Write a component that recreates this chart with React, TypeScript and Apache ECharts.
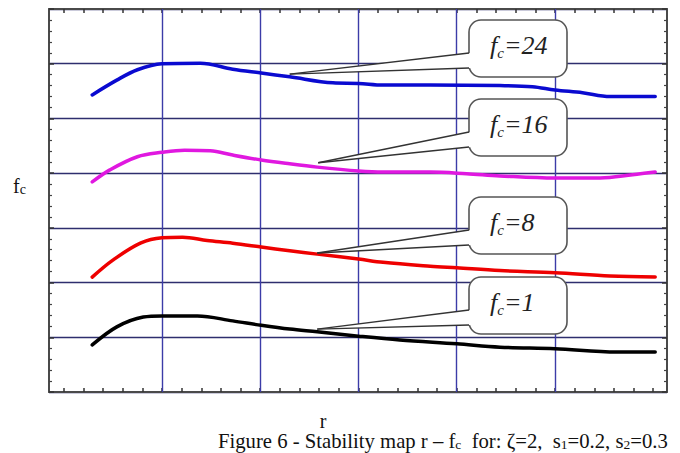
import React, { useEffect, useRef } from "react";
import * as echarts from "echarts";

// r-axis (horizontal) — vertical grid lines and tick positions
const rGridLines = [1, 2, 3, 4, 5];
const rMin = -0.15;
const rMax = 6.14;
const fMin = 0;
const fMax = 7;

// curve data
const rFc1 = [0.29, 0.54, 0.81, 1.0, 1.36, 1.72, 2.01, 2.3, 2.58, 3.0, 3.42, 4.0, 4.44, 5.0, 5.63, 6.02];
const vFc1 = [0.86, 1.19, 1.37, 1.39, 1.39, 1.3, 1.22, 1.15, 1.1, 1.02, 0.95, 0.88, 0.82, 0.79, 0.73, 0.73];

const rFc8 = [0.29, 0.5, 0.78, 1.0, 1.21, 1.46, 1.72, 2.01, 2.3, 2.58, 3.0, 3.25, 3.73, 4.0, 4.44, 5.0, 5.56, 6.02];
const vFc8 = [2.1, 2.41, 2.72, 2.82, 2.83, 2.77, 2.72, 2.65, 2.58, 2.52, 2.43, 2.37, 2.3, 2.27, 2.22, 2.18, 2.12, 2.1];

const rFc16 = [0.29, 0.47, 0.75, 1.0, 1.23, 1.49, 1.72, 2.01, 2.3, 2.58, 3.0, 3.25, 3.73, 4.1, 4.44, 5.0, 5.46, 5.79, 6.02];
const vFc16 = [3.84, 4.06, 4.3, 4.38, 4.42, 4.41, 4.33, 4.24, 4.17, 4.11, 4.04, 4.02, 4.02, 3.99, 3.95, 3.91, 3.91, 3.97, 4.02];

const rFc24 = [0.29, 0.54, 0.75, 1.0, 1.39, 1.72, 2.01, 2.3, 2.74, 3.0, 3.25, 3.73, 4.44, 4.77, 5.0, 5.28, 5.56, 6.02];
const vFc24 = [5.43, 5.7, 5.89, 6.0, 6.01, 5.9, 5.83, 5.76, 5.65, 5.64, 5.61, 5.61, 5.6, 5.58, 5.52, 5.47, 5.4, 5.4];

const seriesColors = ["#000000", "#ee0000", "#e018e0", "#0a0ad0"];
const calloutValues = ["1", "8", "16", "24"];
// tips of the callout pointers, in data coordinates [r, fc]
const calloutTips = [
  [2.58, 1.15],
  [2.58, 2.54],
  [2.59, 4.19],
  [2.3, 5.81],
];
// callout box tops (px)
const calloutTops = [277, 197, 99, 20];

const SERIF = "'Liberation Serif', 'Times New Roman', serif";

function zip(rs: number[], vs: number[]) {
  return rs.map((r, i) => [r, vs[i]]);
}

export default function App() {
  const ref = useRef<HTMLDivElement>(null);
  useEffect(() => {
    if (!ref.current) return;
    const chart = echarts.init(ref.current, undefined, { renderer: "svg" });
    const tickVals: number[] = [];
    for (let i = 0; i <= 30; i++) tickVals.push(Math.round(i * 0.2 * 100) / 100);

    const frame = { show: true, onZero: false, lineStyle: { color: "#4a4a4a", width: 2 } };
    const xAxisBase = {
      type: "value",
      min: rMin,
      max: rMax,
      axisLine: frame,
      axisTick: { show: true, inside: true, length: 4, customValues: tickVals, lineStyle: { color: "#333", width: 1.5 } },
      axisLabel: { show: false },
      splitLine: { show: false },
    };
    const yAxisBase = {
      type: "value",
      min: fMin,
      max: fMax,
      interval: 1,
      axisLine: frame,
      axisTick: { show: true, inside: true, length: 5, lineStyle: { color: "#333", width: 1.5 } },
      minorTick: { show: true, splitNumber: 5, length: 3, lineStyle: { color: "#444", width: 1.2 } },
      axisLabel: { show: false },
    };

    const dataSets = [zip(rFc1, vFc1), zip(rFc8, vFc8), zip(rFc16, vFc16), zip(rFc24, vFc24)];

    const series: any[] = dataSets.map((d, i) => ({
      type: "line",
      name: "fc=" + calloutValues[i],
      data: d,
      showSymbol: false,
      smooth: 0.35,
      z: 3,
      lineStyle: { color: seriesColors[i], width: 3.5, cap: "round", join: "round" },
    }));
    series[0].markLine = {
      silent: true,
      symbol: ["none", "none"],
      z: 1,
      label: { show: false },
      lineStyle: { color: "#3c3ca8", width: 1.4, type: "solid" },
      data: rGridLines.map((r) => ({ xAxis: r })),
    };

    chart.setOption({
      animation: false,
      grid: { left: 49, right: 13, top: 9, bottom: 61 },
      xAxis: [
        { ...xAxisBase, position: "bottom" },
        { ...xAxisBase, position: "top" },
      ],
      yAxis: [
        { ...yAxisBase, position: "left", splitLine: { show: true, lineStyle: { color: "#2e2e6e", width: 1.4 } } },
        { ...yAxisBase, position: "right", splitLine: { show: false } },
      ],
      series,
    });

    const els: any[] = [];
    const boxLeft = 469;
    const boxW = 98;
    const boxH = 57;
    calloutValues.forEach((val, i) => {
      const tip = chart.convertToPixel({ xAxisIndex: 0, yAxisIndex: 0 }, calloutTips[i]) as number[];
      const top = calloutTops[i];
      const yA = top + 33;
      const yB = top + 48;
      els.push({
        type: "rect",
        z: 20,
        shape: { x: boxLeft, y: top, width: boxW, height: boxH, r: 12 },
        style: { fill: "#ffffff", stroke: "#555555", lineWidth: 1.6 },
      });
      els.push({
        type: "polygon",
        z: 21,
        shape: { points: [[tip[0], tip[1]], [boxLeft + 2, yA], [boxLeft + 2, yB]] },
        style: { fill: "#ffffff", stroke: null },
      });
      els.push({
        type: "line",
        z: 22,
        shape: { x1: tip[0], y1: tip[1], x2: boxLeft, y2: yA },
        style: { stroke: "#333333", lineWidth: 1.4 },
      });
      els.push({
        type: "line",
        z: 22,
        shape: { x1: tip[0], y1: tip[1], x2: boxLeft, y2: yB },
        style: { stroke: "#333333", lineWidth: 1.4 },
      });
      els.push({
        type: "text",
        z: 23,
        x: boxLeft + 21,
        y: top + 25,
        style: {
          text: "{f|f}{s|c}{v|=" + val + "}",
          align: "left",
          verticalAlign: "middle",
          textAlign: "left",
          textVerticalAlign: "middle",
          fill: "#222",
          rich: {
            f: { fontFamily: SERIF, fontStyle: "italic", fontSize: 26, lineHeight: 30, fill: "#222" },
            s: { fontFamily: SERIF, fontStyle: "italic", fontSize: 15, lineHeight: 15, verticalAlign: "bottom", fill: "#222" },
            v: { fontFamily: SERIF, fontStyle: "italic", fontSize: 26, lineHeight: 30, fill: "#222" },
          },
        },
      });
    });

    // axis names
    els.push({
      type: "text",
      x: 13,
      y: 186,
      style: {
        text: "{f|f}{s|c}",
        align: "left",
        verticalAlign: "middle",
        textAlign: "left",
        textVerticalAlign: "middle",
        rich: {
          f: { fontFamily: SERIF, fontSize: 20, lineHeight: 20, fill: "#111" },
          s: { fontFamily: SERIF, fontSize: 14, lineHeight: 12, verticalAlign: "bottom", fill: "#111" },
        },
      },
    });
    els.push({
      type: "text",
      x: 323,
      y: 421,
      style: {
        text: "r",
        fontFamily: SERIF,
        fontSize: 20,
        fill: "#111",
        align: "center",
        verticalAlign: "middle",
        textAlign: "center",
        textVerticalAlign: "middle",
      },
    });
    // caption
    els.push({
      type: "text",
      x: 218,
      y: 441,
      style: {
        text: "{n|Figure 6 - Stability map r – f}{s|c}{n|  for: ζ=2,  s}{s|1}{n|=0.2, s}{s|2}{n|=0.3}",
        align: "left",
        verticalAlign: "middle",
        textAlign: "left",
        textVerticalAlign: "middle",
        rich: {
          n: { fontFamily: SERIF, fontSize: 20.7, lineHeight: 21, fill: "#111" },
          s: { fontFamily: SERIF, fontSize: 13.5, lineHeight: 11, verticalAlign: "bottom", fill: "#111" },
        },
      },
    });

    chart.setOption({ graphic: { elements: els } });

    return () => chart.dispose();
  }, []);
  return <div ref={ref} style={{ position: "fixed", left: 0, top: 0, width: 680, height: 453, background: "#fff" }} />;
}
